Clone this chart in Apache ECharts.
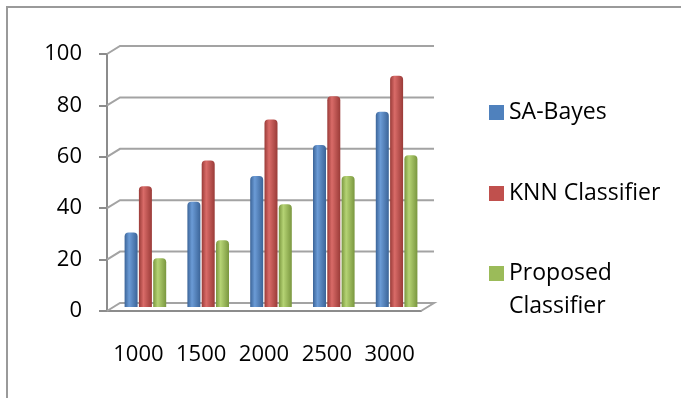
<!DOCTYPE html>
<html>
<head>
<meta charset="utf-8">
<script src="https://cdn.jsdelivr.net/npm/echarts@6/dist/echarts.min.js"></script>
<style>
  html, body { margin: 0; padding: 0; background: #fff; }
  #main { width: 681px; height: 398px; }
</style>
</head>
<body>
<div id="main"></div>
<script>
// 数据
var categories = ['1000', '1500', '2000', '2500', '3000'];
var saBayes = [29, 41, 51, 63, 76];
var knnClassifier = [47, 57, 73, 82, 90];
var proposedClassifier = [19, 26, 40, 51, 59];
var yTicks = [0, 20, 40, 60, 80, 100];

var colors = ['#4F81BD', '#C0504D', '#9BBB59'];
var font = '"Open Sans", sans-serif';
var depthX = 13, depthY = -8;   // 背面墙偏移
var gridColor = '#a3a3a3';

// 圆柱的横向渐变
function cylinder(dark, light) {
    return new echarts.graphic.LinearGradient(0, 0, 1, 0, [
        { offset: 0, color: dark },
        { offset: 0.35, color: light },
        { offset: 1, color: dark }
    ]);
}

// 背面墙网格线 + 侧墙斜线
function renderWall(params, api) {
    var cs = params.coordSys;
    var v = api.value(1);
    var y = api.coord([0, v])[1];
    var pts = [[cs.x, y], [cs.x + depthX, y + depthY], [cs.x + cs.width + depthX, y + depthY]];
    if (v === 0) pts.push([cs.x + cs.width, y]);
    return {
        type: 'polyline',
        shape: { points: pts },
        style: { stroke: gridColor, lineWidth: 2, fill: null }
    };
}

function barSeries(name, data, dark, light) {
    return {
        name: name,
        type: 'bar',
        xAxisIndex: 1,
        yAxisIndex: 1,
        data: data,
        barWidth: 13,
        barGap: '10%',
        z: 3,
        itemStyle: {
            color: cylinder(dark, light),
            borderRadius: [4, 4, 0, 0]
        }
    };
}

// 每个图例单独放置，便于对齐
function legendBox(name, color, top, formatter) {
    return {
        data: [{ name: name, itemStyle: { color: color } }],
        left: 484,
        top: top,
        orient: 'vertical',
        itemWidth: 15,
        itemHeight: 15,
        icon: 'rect',
        selectedMode: false,
        formatter: formatter,
        textStyle: { fontFamily: font, fontSize: 23, color: '#000', lineHeight: 33 }
    };
}

var myChart = echarts.init(document.getElementById('main'));

var option = {
    animation: false,
    color: colors,
    graphic: [
        { type: 'polyline', shape: { points: [[7, 400], [7, 7], [690, 7]] },
          style: { stroke: '#9a9a9a', lineWidth: 2, fill: null } }
    ],
    legend: [
        legendBox('SA-Bayes', colors[0], 91),
        legendBox('KNN Classifier', colors[1], 172),
        legendBox('Proposed Classifier', colors[2], 219, function () { return ' \nProposed\nClassifier'; })
    ],
    grid: [
        { left: 107, top: 54, width: 314, height: 257 },   // 前面坐标轴
        { left: 114, top: 50, width: 314, height: 257 }    // 柱子所在的中间层
    ],
    xAxis: [
        {
            type: 'category',
            gridIndex: 0,
            data: categories,
            axisLine: { lineStyle: { color: '#8c8c8c', width: 2 } },
            axisTick: { length: 7, lineStyle: { color: '#8c8c8c', width: 2 } },
            axisLabel: { interval: 0, hideOverlap: false, color: '#000', fontFamily: font, fontSize: 22, margin: 33 }
        },
        {
            type: 'category',
            gridIndex: 1,
            data: categories,
            show: false
        }
    ],
    yAxis: [
        {
            type: 'value',
            gridIndex: 0,
            min: 0, max: 100, interval: 20,
            axisLine: { show: true, lineStyle: { color: '#8c8c8c', width: 2 } },
            axisTick: { show: true, length: 8, lineStyle: { color: '#8c8c8c', width: 2 } },
            splitLine: { show: false },
            axisLabel: { color: '#000', fontFamily: font, fontSize: 22, margin: 25 }
        },
        {
            type: 'value',
            gridIndex: 1,
            min: 0, max: 100, interval: 20,
            show: false,
            splitLine: { show: false }
        }
    ],
    series: [
        {
            type: 'custom',
            xAxisIndex: 0,
            yAxisIndex: 0,
            data: yTicks.map(function (v) { return [0, v]; }),
            encode: { x: 0, y: 1 },
            renderItem: renderWall,
            clip: false,
            silent: true,
            z: 1
        },
        barSeries('SA-Bayes', saBayes, '#3b6498', '#6b9bd6'),
        barSeries('KNN Classifier', knnClassifier, '#9a3b38', '#d96b68'),
        barSeries('Proposed Classifier', proposedClassifier, '#7a973f', '#b5d374')
    ]
};

myChart.setOption(option);
</script>
</body>
</html>
